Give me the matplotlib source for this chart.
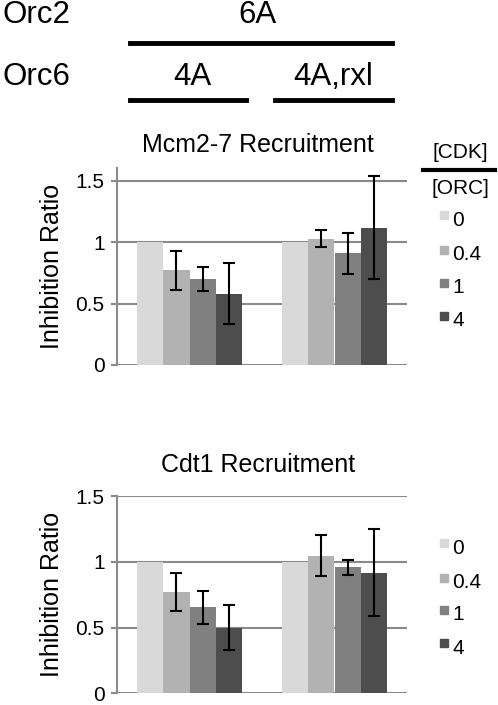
import matplotlib
matplotlib.use("Agg")
from matplotlib import pyplot as plt
from matplotlib.patches import Rectangle
from matplotlib.lines import Line2D
import numpy as np

plt.rcParams["font.family"] = ["Liberation Sans", "DejaVu Sans"]

# data
groups = ["4A", "4A,rxl"]
cdk_levels = ["0", "0.4", "1", "4"]
colors = ["#d9d9d9", "#b2b2b2", "#808080", "#4d4d4d"]

mcm_means = [[1.0, 0.77, 0.70, 0.58], [1.0, 1.03, 0.91, 1.12]]
mcm_errs = [[0.0, 0.16, 0.10, 0.25], [0.0, 0.07, 0.165, 0.42]]

cdt_means = [[1.0, 0.77, 0.655, 0.50], [1.0, 1.045, 0.957, 0.918]]
cdt_errs = [[0.0, 0.145, 0.125, 0.17], [0.0, 0.155, 0.057, 0.33]]

W, H = 498, 705
fig = plt.figure(figsize=(W / 100, H / 100), dpi=100)


def fx(x):
    return x / W


def fy(y):
    return 1 - y / H


grey = "#8a8a8a"
fs = 15


def bar_panel(top, bottom, ymax, means, errs, title, title_y):
    ax = fig.add_axes([fx(117), fy(bottom), fx(407) - fx(117), fy(top) - fy(bottom)])
    width = 0.18
    x = np.arange(len(groups))
    for i, lvl in enumerate(cdk_levels):
        vals = [means[g][i] for g in range(len(groups))]
        ers = [errs[g][i] for g in range(len(groups))]
        pos = x + (i - 1.5) * width
        ax.bar(pos, vals, width, color=colors[i], zorder=3)
        keep = [k for k in range(len(ers)) if ers[k] > 0]
        if keep:
            ax.errorbar([pos[k] for k in keep], [vals[k] for k in keep],
                        yerr=[ers[k] for k in keep], fmt="none", ecolor="black",
                        elinewidth=1.5, capsize=4, capthick=1.5, zorder=4)
    ax.set_xlim(-0.5, 1.5)
    ax.set_ylim(0, ymax)
    ax.set_yticks([0, 0.5, 1, 1.5])
    ax.set_yticklabels(["0", "0.5", "1", "1.5"], fontsize=fs)
    ax.set_xticks([])
    ax.yaxis.grid(True, color=grey, lw=1.5, zorder=0)
    ax.tick_params(axis="y", length=4, width=1.5, color=grey, pad=5)
    for s in ["top", "right", "bottom"]:
        ax.spines[s].set_visible(False)
    ax.spines["left"].set_color(grey)
    ax.spines["left"].set_linewidth(1.5)
    ax.set_ylabel("Inhibition Ratio", fontsize=18, labelpad=8)
    fig.text(fx(258), fy(title_y), title, fontsize=18, ha="center", va="center")
    return ax


bar_panel(168, 365, 1.605, mcm_means, mcm_errs, "Mcm2-7 Recruitment", 145)
bar_panel(496, 693.3, 1.5, cdt_means, cdt_errs, "Cdt1 Recruitment", 465)

# header
hs = 22.5
fig.text(fx(2), fy(15), "Orc2", fontsize=hs, ha="left", va="center")
fig.text(fx(257), fy(15), "6A", fontsize=hs, ha="center", va="center")
fig.text(fx(2), fy(77), "Orc6", fontsize=hs, ha="left", va="center")
fig.text(fx(192), fy(77), "4A", fontsize=hs, ha="center", va="center")
fig.text(fx(333), fy(77), "4A,rxl", fontsize=hs, ha="center", va="center")
for x0, x1, y in [(130, 392, 43), (130, 246, 100), (275, 392, 100)]:
    fig.add_artist(Line2D([fx(x0), fx(x1)], [fy(y), fy(y)], color="black", lw=3.5,
                          transform=fig.transFigure))

# legends
fig.text(fx(460), fy(153), "[CDK]", fontsize=15, ha="center", va="center")
fig.add_artist(Line2D([fx(423), fx(495)], [fy(170), fy(170)], color="black", lw=3,
                      transform=fig.transFigure))
fig.text(fx(460), fy(188), "[ORC]", fontsize=15, ha="center", va="center")


def legend_block(ys):
    for i, lvl in enumerate(cdk_levels):
        y = ys[i]
        fig.add_artist(Rectangle((fx(440), fy(y - 1)), fx(8), 8 / H, color=colors[i],
                                 transform=fig.transFigure))
        fig.text(fx(452), fy(y), lvl, fontsize=fs, ha="left", va="center")


legend_block([220, 255, 288, 321])
legend_block([548, 583, 615, 648])

fig.savefig("out.png", dpi=100)
